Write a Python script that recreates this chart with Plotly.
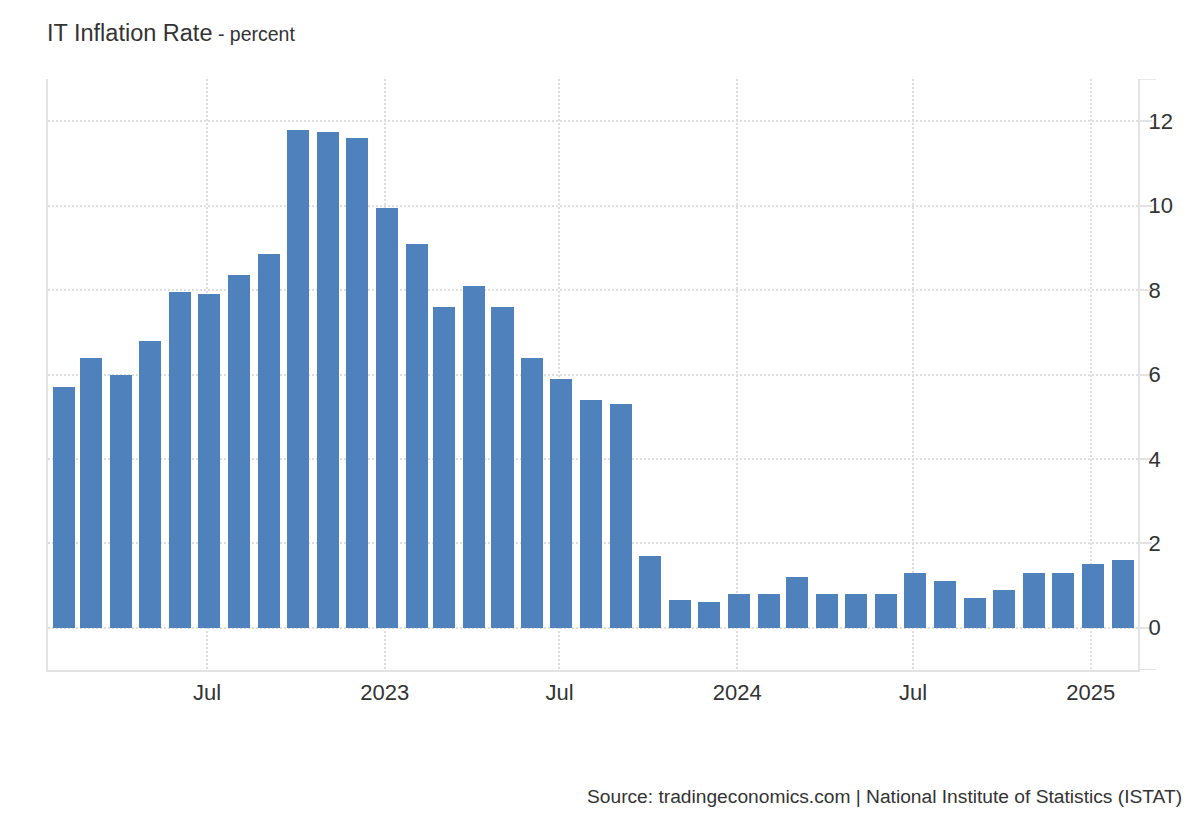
import plotly.graph_objects as go

months = [
    "2022-02-01", "2022-03-01", "2022-04-01", "2022-05-01", "2022-06-01", "2022-07-01",
    "2022-08-01", "2022-09-01", "2022-10-01", "2022-11-01", "2022-12-01",
    "2023-01-01", "2023-02-01", "2023-03-01", "2023-04-01", "2023-05-01", "2023-06-01",
    "2023-07-01", "2023-08-01", "2023-09-01", "2023-10-01", "2023-11-01", "2023-12-01",
    "2024-01-01", "2024-02-01", "2024-03-01", "2024-04-01", "2024-05-01", "2024-06-01",
    "2024-07-01", "2024-08-01", "2024-09-01", "2024-10-01", "2024-11-01", "2024-12-01",
    "2025-01-01", "2025-02-01",
]
inflation = [
    5.7, 6.4, 6.0, 6.8, 7.95, 7.9,
    8.35, 8.85, 11.8, 11.75, 11.6,
    9.95, 9.1, 7.6, 8.1, 7.6, 6.4,
    5.9, 5.4, 5.3, 1.7, 0.65, 0.6,
    0.8, 0.8, 1.2, 0.8, 0.8, 0.8,
    1.3, 1.1, 0.7, 0.9, 1.3, 1.3,
    1.5, 1.6,
]
x_tick_vals = ["2022-07-01", "2023-01-01", "2023-07-01", "2024-01-01", "2024-07-01", "2025-01-01"]
x_tick_text = ["Jul", "2023", "Jul", "2024", "Jul", "2025"]
y_tick_vals = [0, 2, 4, 6, 8, 10, 12]

DAY = 86400000
bar_w = 22.8 * DAY

fig = go.Figure()
fig.add_trace(go.Bar(
    x=months, y=inflation,
    marker=dict(color="#4F81BD", line=dict(width=0)),
    width=bar_w,
    offset=-bar_w / 2 + 2 * DAY,
    hoverinfo="x+y",
))

axis_col = "#e3e3e3"
grid_col = "#dedede"
font_fam = "Liberation Sans, Arial, sans-serif"

fig.update_layout(
    width=1192, height=812,
    margin=dict(l=40, r=62, t=71, b=150),
    plot_bgcolor="white", paper_bgcolor="white",
    showlegend=False,
    bargap=0,
    font=dict(family=font_fam, color="#333333"),
    xaxis=dict(
        type="date",
        range=["2022-01-17 10:00", "2025-02-19"],
        tickvals=x_tick_vals, ticktext=x_tick_text,
        tickfont=dict(size=22, color="#333333"),
        showgrid=True, gridcolor=grid_col, griddash="2px,2px", gridwidth=1.5,
        showline=True, linecolor=axis_col, linewidth=2,
        ticks="outside", ticklen=2, tickcolor="rgba(0,0,0,0)",
        zeroline=False, fixedrange=True,
    ),
    yaxis=dict(
        side="right",
        range=[-1, 13],
        tickvals=y_tick_vals,
        tickfont=dict(size=22, color="#333333"),
        showgrid=True, gridcolor=grid_col, griddash="2px,2px", gridwidth=1.5,
        showline=True, linecolor=axis_col, linewidth=2, mirror=True,
        ticks="outside", ticklen=12, tickcolor=axis_col, tickwidth=1.5,
        ticklabelstandoff=-8,
        zeroline=False, fixedrange=True,
    ),
    annotations=[
        dict(
            text="IT Inflation Rate<span style='font-size:19.5px'> - percent</span>",
            xref="paper", yref="paper", x=0, y=1, xshift=-3, yshift=46,
            xanchor="left", yanchor="middle", showarrow=False,
            font=dict(size=23.5, color="#333333", family=font_fam),
        ),
        dict(
            text="Source: tradingeconomics.com | National Institute of Statistics (ISTAT)",
            xref="paper", yref="paper", x=1, y=0, xshift=46, yshift=-126,
            xanchor="right", yanchor="middle", showarrow=False,
            font=dict(size=19.2, color="#333333", family=font_fam),
        ),
    ],
    shapes=[
        dict(type="line", xref="paper", yref="y", x0=1, x1=1 + 18 / 1090, y0=13, y1=13,
             line=dict(color=axis_col, width=1.5)),
        dict(type="line", xref="paper", yref="y", x0=1, x1=1 + 18 / 1090, y0=-1, y1=-1,
             line=dict(color=axis_col, width=2)),
    ],
)

fig.write_html("out.html")
